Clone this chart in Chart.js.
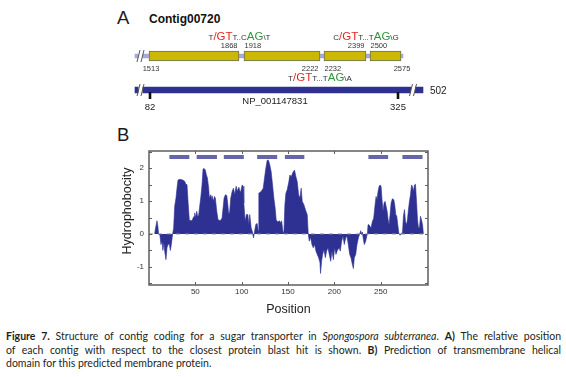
<!DOCTYPE html>
<html>
<head>
<meta charset="utf-8">
<script src="https://cdn.jsdelivr.net/npm/chart.js"></script>
<style>
  html, body { margin: 0; padding: 0; background: #fff; }
  body { width: 566px; height: 377px; position: relative; overflow: hidden; font-family: 'Liberation Sans', Arial, sans-serif; color: #222; }
  .abs { position: absolute; }
  .panel { font-size: 18.5px; line-height: 18.5px; color: #1a1a1a; }
  .contig { font-size: 12px; line-height: 12px; font-weight: bold; color: #111; }
  .cap { position: absolute; left: 6px; width: 555px; font-family: Lato, 'Open Sans', sans-serif; font-size: 10.5px; line-height: 13.5px; color: #231f20; text-align: justify; }
  .cap.j { text-align-last: justify; }
</style>
</head>
<body>
<div class="abs panel" style="left:117px; top:9px;">A</div>
<div class="abs contig" style="left:149px; top:13px;">Contig00720</div>
<canvas id="diagram" class="abs" width="366" height="118" style="left:100px; top:0px;"></canvas>

<div class="abs panel" style="left:117px; top:126px;">B</div>
<canvas id="hydro" class="abs" width="340" height="180" style="left:100px; top:140px;"></canvas>

<div class="cap j" style="top:330px;"><b>Figure 7.</b> Structure of contig coding for a sugar transporter in <i>Spongospora subterranea</i>. <b>A)</b> The relative position</div>
<div class="cap j" style="top:343.5px;">of each contig with respect to the closest protein blast hit is shown. <b>B)</b> Prediction of transmembrane helical</div>
<div class="cap" style="top:357px;">domain for this predicted membrane protein.</div>

<script>
// ---- panel A: contig / protein diagram ----
// contig coordinates (bp) of each exon block
const exonStart = [1513, 1918, 2232, 2500];
const exonEnd = [1868, 2222, 2399, 2575];
// where the blocks sit in the (not to scale) diagram, diagram units
const exonFrom = [49, 144, 224, 270];
const exonTo = [139, 220, 266, 301];
const contigSpan = [35, 303];
const proteinSpan = [35, 323];
const startLabelRow = ['below', 'above', 'below', 'above'];
const startLabelAlign = ['center', 'left', 'left', 'left'];
const endLabelRow = ['above', 'below', 'above', 'below'];
const endLabelAlign = ['right', 'right', 'right', 'center'];

// splice sites of the three introns
const spliceBefore = ['T', 'T', 'C'];
const spliceInside = ['T..C', 'T...T', 'T...T'];
const spliceAfter = ['T', 'A', 'G'];
const spliceRow = ['above', 'below', 'above'];

// blast hit on the protein
const proteinName = 'NP_001147831';
const proteinLength = 502;
const hitAa = [82, 325];
const hitMarkAt = [50, 298];

// ---- panel B: hydrophobicity profile ----
const position = [6.0, 7.2, 8.6, 9.5, 10.4, 11.8, 12.9, 14.0, 15.0, 16.1, 16.9, 18.3, 19.4, 20.5, 21.9, 23.0, 24.1, 25.5,
  26.6, 27.7, 29.1, 30.2, 31.3, 33.4, 36.3, 38.5, 39.9, 41.0, 42.1, 43.5, 46.4, 47.5, 48.6, 49.3, 50.4, 51.5, 52.5,
  53.6, 54.7, 55.8, 57.2, 58.3, 59.4, 60.8, 61.9, 63.0, 64.4, 65.1, 66.6, 67.3, 68.0, 69.5, 70.6, 71.6, 73.1, 74.5,
  76.7, 78.8, 81.0, 82.4, 83.9, 85.0, 86.0, 87.1, 88.2, 89.7, 91.1, 92.5, 94.0, 95.4, 96.9, 98.7, 100.5, 101.5,
  102.3, 103.7, 105.1, 106.6, 107.7, 108.7, 110.2, 111.6, 112.7, 113.8, 115.2, 116.7, 117.8, 118.5, 121.0, 123.2,
  124.6, 126.0, 127.5, 128.9, 130.4, 131.8, 133.3, 134.7, 136.1, 137.2, 139.0, 140.8, 141.9, 143.0, 144.4, 145.5,
  146.6, 147.7, 149.1, 150.9, 152.0, 153.4, 155.6, 157.0, 158.5, 159.9, 161.4, 162.8, 164.2, 165.3, 167.1, 169.3,
  170.7, 171.8, 172.9, 174.3, 175.8, 177.2, 178.7, 180.1, 181.5, 183.0, 184.4, 185.1, 186.2, 187.3, 188.8, 190.2,
  191.6, 193.1, 194.5, 196.0, 197.4, 198.9, 200.3, 201.7, 203.2, 205.0, 206.4, 207.8, 209.3, 210.7, 212.2, 213.6,
  215.0, 216.5, 217.9, 219.4, 220.5, 221.5, 223.0, 224.4, 225.9, 227.3, 228.4, 229.5, 230.2, 231.3, 232.3, 233.8,
  234.9, 235.6, 236.3, 237.4, 238.5, 239.6, 241.0, 242.4, 243.9, 245.0, 246.0, 247.1, 248.2, 249.3, 250.4, 251.4,
  252.5, 253.6, 254.7, 255.8, 256.9, 258.0, 259.0, 260.1, 261.2, 262.6, 264.1, 265.1, 266.2, 267.3, 268.4, 269.5,
  270.9, 272.3, 273.4, 274.5, 275.6, 276.7, 277.8, 278.8, 279.9, 281.0, 282.1, 283.2, 284.2, 285.3, 286.4, 287.5,
  288.6, 289.7, 290.7, 291.8, 292.9, 294.0, 295.1, 296.1];
const hydrophobicity = [0, 0.2, 0.4, 0.25, 0, -0.05, -0.32, -0.22, -0.5, -0.27, -0.52, -0.78, -0.42, -0.32, -0.3, -0.5, -0.32, 0,
  0.18, 0.84, 1.09, 1.39, 1.64, 1.66, 1.64, 1.6, 1.5, 1.5, 0.99, 0.42, 0.4, 0.48, 0.54, 0.64, 0.5, 0.69, 0.54,
  0.57, 0.84, 1.09, 1.49, 1.97, 1.99, 1.94, 1.8, 1.7, 1.39, 1.09, 1.19, 1.04, 1.16, 0.99, 1.14, 1.09, 0.69, 0.43,
  0.4, 0.48, 1.09, 1.19, 1.17, 0.9, 0.59, 0.69, 1.09, 1.29, 1.39, 1.2, 1.45, 1.3, 1.42, 1.25, 1.49, 1.45,
  0.94, 0.39, 0.59, 0.59, 0.29, 0.59, 0.19, 0.06, -0.12, 0.06, 0.29, 0.32, 0.1, 1.24, 1.29, 1.39,
  1.69, 1.99, 2.24, 2.24, 2.09, 1.89, 1.49, 1.09, 0.79, 0.43, 0.36, 0.4, 0.33, 0.4, 0.1, 0,
  0.89, 1.24, 1.34, 1.59, 1.79, 1.74, 1.89, 1.94, 1.74, 1.59, 1.19, 1.09, 1.39, 0.99, 0.89, 0.69,
  0.59, 0, -0.22, -0.1, -0.32, -0.42, -0.32, -0.52, -0.62, -0.72, -0.87, -1.2, -0.83, -0.62, -0.47, -0.72,
  -0.52, -0.42, -0.62, -0.83, -0.52, -0.78, -0.42, -0.62, -0.5, -0.42, -0.52, -0.22, -0.07, -0.32, -0.12, -0.07,
  -0.32, -0.62, -0.72, -0.93, -1.05, -0.72, -0.62, -0.32, -0.12, 0, 0.1, -0.02, 0.06, -0.17, -0.32, -0.22,
  -0.07, 0, 0.28, 0.28, 0.23, 0.19, 0.38, 0.48, 0.89, 1.14, 1.04, 1.29, 1.44, 1.49, 1.44, 1.04,
  0.69, 0.94, 0.99, 0.84, 0.69, 0.43, 0.28, 0.59, 0.94, 1.07, 1.04, 0.89, 0.59, 0.54, 0.28, 0.03,
  -0.04, 0.03, 0, 0.54, 0.74, 0.38, 0.28, 0.43, 0.74, 0.99, 1.19, 1.49, 1.44, 1.29, 1.49, 1.51,
  0.99, 0.43, 0.19, 0.19, 0.54, 0.43, 0.28, 0];
// predicted transmembrane helices
const helixStart = [22, 51.4, 80.7, 116.7, 146.6, 236.7, 273.4];
const helixEnd = [43.5, 73.3, 102.3, 138.3, 167.6, 258, 295.1];
const helixLevel = 2.34;

// axis ticks
const xTicks = [50, 100, 150, 200, 250];
const yTicks = [-1.5, -1, -0.5, 0, 0.5, 1, 1.5, 2, 2.5];

const FONT = "'Liberation Sans', Arial, sans-serif";
Chart.defaults.font.family = FONT;

const navy = '#2e3192';

// ---------- panel A ----------
const rowContig = 56;
const rowProtein = 90;

function drawBreak(ctx, xs, y, half) {
  ctx.save();
  ctx.fillStyle = '#fff';
  ctx.fillRect(xs[0], y - half - 1, xs[1] - xs[0], 2 * half + 2);
  ctx.strokeStyle = '#555';
  ctx.lineWidth = 1;
  xs.forEach(x => {
    ctx.beginPath();
    ctx.moveTo(x - 1.5, y + 6);
    ctx.lineTo(x + 1.5, y - 6);
    ctx.stroke();
  });
  ctx.restore();
}

function drawSplice(ctx, i, cx, baseline) {
  const big = '11.5px ' + FONT, small = '8px ' + FONT;
  const parts = [
    [spliceBefore[i], small, '#333'],
    ['/GT', big, '#e3261f'],
    [spliceInside[i], small, '#333'],
    ['AG', big, '#2e963a'],
    ['\\' + spliceAfter[i], small, '#333']
  ];
  let total = 0;
  parts.forEach(p => { ctx.font = p[1]; total += ctx.measureText(p[0]).width; });
  let x = cx - total / 2;
  ctx.textAlign = 'left';
  ctx.textBaseline = 'alphabetic';
  parts.forEach(p => {
    ctx.font = p[1];
    ctx.fillStyle = p[2];
    ctx.fillText(p[0], x, baseline);
    x += ctx.measureText(p[0]).width;
  });
}

const diagramText = {
  id: 'diagramText',
  afterDatasetsDraw(chart) {
    const ctx = chart.ctx;
    const sx = chart.scales.x, sy = chart.scales.y;
    const X = v => sx.getPixelForValue(v);
    const Y = v => sy.getPixelForValue(v);

    // broken ends of the lines
    drawBreak(ctx, [X(38.5), X(42.5)], Y(rowContig), 2);
    drawBreak(ctx, [X(38.5), X(42.5)], Y(rowProtein), 3);
    drawBreak(ctx, [X(311), X(315)], Y(rowProtein), 3);

    // hit marks on protein
    ctx.save();
    ctx.strokeStyle = '#111';
    ctx.lineWidth = 2.6;
    hitMarkAt.forEach(v => {
      ctx.beginPath();
      ctx.moveTo(X(v), Y(rowProtein) + 2);
      ctx.lineTo(X(v), Y(rowProtein) + 9);
      ctx.stroke();
    });

    // exon boundary coordinates
    ctx.font = '7.5px ' + FONT;
    ctx.fillStyle = '#333';
    ctx.textBaseline = 'alphabetic';
    const place = (txt, edge, row, align, inset) => {
      ctx.textAlign = align;
      let x = X(edge);
      if (align === 'left') x += inset;
      if (align === 'right') x -= inset;
      ctx.fillText(txt, x, row === 'above' ? 47.5 : 71);
    };
    exonStart.forEach((bp, i) => place(String(bp), exonFrom[i] + (startLabelAlign[i] === 'center' ? 2 : 0), startLabelRow[i], startLabelAlign[i], 0.5));
    exonEnd.forEach((bp, i) => place(String(bp), exonTo[i] + (endLabelAlign[i] === 'center' ? 1 : 0), endLabelRow[i], endLabelAlign[i], 1.5));

    // splice sites
    spliceRow.forEach((row, i) => {
      const cx = X((exonTo[i] + exonFrom[i + 1]) / 2) - 2;
      drawSplice(ctx, i, cx, row === 'above' ? 39.5 : 80.5);
    });

    // protein labels
    ctx.font = '9.5px ' + FONT;
    ctx.fillStyle = '#222';
    ctx.textAlign = 'center';
    hitAa.forEach((aa, i) => ctx.fillText(String(aa), X(hitMarkAt[i]), 110));
    ctx.fillText(proteinName, X((hitMarkAt[0] + hitMarkAt[1]) / 2) + 1, 104);
    ctx.textAlign = 'left';
    ctx.font = '10px ' + FONT;
    ctx.fillText(String(proteinLength), X(proteinSpan[1]) + 7, Y(rowProtein) + 4);
    ctx.restore();
  }
};

new Chart(document.getElementById('diagram'), {
  type: 'bar',
  data: {
    datasets: [
      { label: 'contig', data: [{ x: contigSpan, y: rowContig }], backgroundColor: '#a9a9d9', borderWidth: 0,
        maxBarThickness: 4, order: 3 },
      { label: 'exons', data: exonFrom.map((f, i) => ({ x: [f, exonTo[i]], y: rowContig })), backgroundColor: '#cab804',
        borderColor: '#6f6f5a', borderWidth: 1, borderSkipped: false, maxBarThickness: 10, order: 1 },
      { label: 'protein', data: [{ x: proteinSpan, y: rowProtein }], backgroundColor: navy, borderWidth: 0,
        maxBarThickness: 6, order: 2 }
    ]
  },
  options: {
    indexAxis: 'y',
    responsive: false,
    animation: false,
    events: [],
    layout: { padding: 0 },
    datasets: { bar: { grouped: false, barPercentage: 1, categoryPercentage: 1 } },
    plugins: { legend: { display: false }, tooltip: { enabled: false } },
    scales: {
      x: { type: 'linear', min: 0, max: 366, display: false },
      y: { type: 'linear', min: 0, max: 118, reverse: true, offset: false, display: false, ticks: { stepSize: 59 } }
    }
  },
  plugins: [diagramText]
});

// ---------- panel B ----------
const helixData = [];
helixStart.forEach((s, i) => {
  helixData.push({ x: s, y: helixLevel }, { x: helixEnd[i], y: helixLevel }, { x: helixEnd[i], y: null });
});

const frameAndTicks = {
  id: 'frameAndTicks',
  afterDatasetsDraw(chart) {
    const ctx = chart.ctx, a = chart.chartArea, sy = chart.scales.y;
    const y0 = sy.getPixelForValue(0);
    ctx.save();
    ctx.strokeStyle = '#8a8a8a';
    ctx.lineWidth = 1;
    ctx.setLineDash([4, 5]);
    ctx.beginPath();
    ctx.moveTo(a.left, y0);
    ctx.lineTo(a.right, y0);
    ctx.stroke();
    ctx.restore();
  },
  afterDraw(chart) {
    const ctx = chart.ctx, a = chart.chartArea;
    const sx = chart.scales.x, sy = chart.scales.y;
    ctx.save();
    ctx.strokeStyle = '#5e5e5e';
    ctx.lineWidth = 1;
    sy.ticks.forEach(t => {
      const y = Math.round(sy.getPixelForValue(t.value)) + 0.5;
      ctx.beginPath();
      ctx.moveTo(a.left, y); ctx.lineTo(a.left + 3, y);
      ctx.moveTo(a.right, y); ctx.lineTo(a.right - 3, y);
      ctx.stroke();
    });
    sx.ticks.forEach(t => {
      const x = Math.round(sx.getPixelForValue(t.value)) + 0.5;
      ctx.beginPath();
      ctx.moveTo(x, a.top); ctx.lineTo(x, a.top + 3);
      ctx.moveTo(x, a.bottom); ctx.lineTo(x, a.bottom - 3);
      ctx.stroke();
    });
    ctx.lineWidth = 1.5;
    ctx.strokeRect(a.left, a.top, a.right - a.left, a.bottom - a.top);

    // y axis title
    ctx.translate(28, (a.top + a.bottom) / 2 - 7);
    ctx.rotate(-Math.PI / 2);
    ctx.font = '12.5px ' + FONT;
    ctx.fillStyle = '#222';
    ctx.textAlign = 'center';
    ctx.textBaseline = 'middle';
    ctx.fillText('Hydrophobocity', 0, 0);
    ctx.restore();
  }
};

new Chart(document.getElementById('hydro'), {
  type: 'line',
  data: {
    datasets: [
      { label: 'TM helix', data: helixData, borderColor: '#6565a9', borderWidth: 4, borderCapStyle: 'butt',
        pointRadius: 0, fill: false, spanGaps: false, order: 1 },
      { label: 'Hydrophobicity', data: position.map((p, i) => ({ x: p, y: hydrophobicity[i] })),
        borderColor: navy, backgroundColor: navy, borderWidth: 0.6, pointRadius: 0, tension: 0, fill: 'origin', order: 2 }
    ]
  },
  options: {
    responsive: false,
    animation: false,
    events: [],
    layout: { padding: { top: 11, right: 12, left: 0, bottom: 0 } },
    plugins: { legend: { display: false }, tooltip: { enabled: false } },
    scales: {
      x: {
        type: 'linear', min: 0, max: 301,
        grid: { display: false, drawTicks: false },
        border: { display: false },
        afterBuildTicks: s => { s.ticks = xTicks.map(v => ({ value: v })); },
        ticks: { autoSkip: false, maxRotation: 0, padding: 2, color: '#333', font: { size: 8 } },
        title: { display: true, text: 'Position', color: '#222', font: { size: 12.5 }, padding: { top: 0, bottom: 2.5 } },
        afterFit: s => { s.height = 35; }
      },
      y: {
        type: 'linear', min: -1.55, max: 2.52,
        grid: { display: false, drawTicks: false },
        border: { display: false },
        afterBuildTicks: s => { s.ticks = yTicks.map(v => ({ value: v })); },
        ticks: { autoSkip: false, padding: 5, color: '#333', font: { size: 8 },
          callback: v => Number.isInteger(v) ? String(v) : '' },
        afterFit: s => { s.width = 49; }
      }
    }
  },
  plugins: [frameAndTicks]
});
</script>
</body>
</html>
